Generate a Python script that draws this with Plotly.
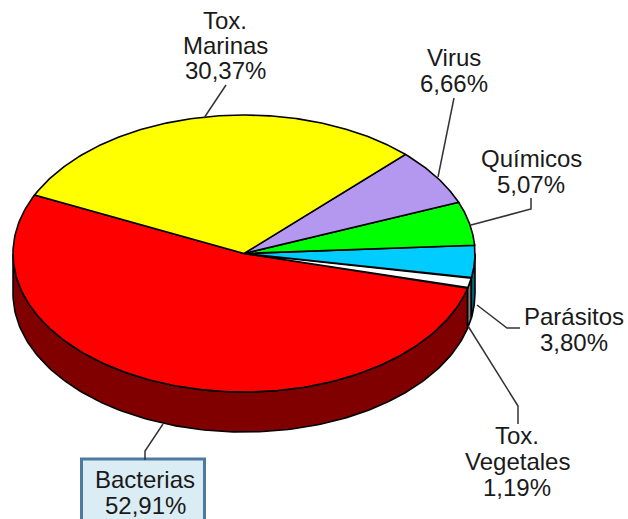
import numpy as np
import plotly.graph_objects as go

categories = ["Bacterias", "Tox. Vegetales", "Parásitos", "Químicos", "Virus", "Tox. Marinas"]
values = [52.91, 1.19, 3.80, 5.07, 6.66, 30.37]
top_colors = ["#FF0000", "#FFFFFF", "#00CCFF", "#00FF00", "#B497EE", "#FFFF00"]
side_colors = ["#800000", "#808080", "#006680", "#008000", "#5A4B77", "#808000"]

CX, CY, RX, RY, DEPTH = 244.0, 253.5, 231.0, 138.5, 40.0
START_DEG = 155.0

fig = go.Figure()

def point(deg, dy=0.0):
    a = np.radians(deg)
    return CX + RX * np.cos(a), CY - RY * np.sin(a) + dy

def add_poly(xs, ys, fill, width=1.6):
    fig.add_trace(go.Scatter(x=xs, y=ys, mode="lines", fill="toself", fillcolor=fill,
                             line=dict(color="#000000", width=width), hoverinfo="skip",
                             showlegend=False))

# angular spans of every slice, anticlockwise from START_DEG
spans = []
angle = START_DEG
for v in values:
    spans.append((angle, angle + v * 3.6))
    angle += v * 3.6

# side wall (front half only: 180 to 360 degrees)
for (a0, a1), side in zip(spans, side_colors):
    lo, hi = max(a0, 180.0), min(a1, 360.0)
    if hi > lo:
        t = np.linspace(lo, hi, 160)
        x0, y0 = point(t)
        x1, y1 = point(t[::-1], DEPTH)
        add_poly(np.r_[x0, x1, x0[0]], np.r_[y0, y1, y0[0]], side)

# top face
for (a0, a1), top in zip(spans, top_colors):
    t = np.linspace(a0, a1, 200)
    x, y = point(t)
    add_poly(np.r_[CX, x, CX], np.r_[CY, y, CY], top)

# leader lines
leaders = [
    [(204, 118), (226, 85)],
    [(438, 177), (454, 98)],
    [(471, 225), (531, 209), (531, 198)],
    [(477, 305), (507, 328), (520, 328)],
    [(468, 326), (518, 406), (518, 424)],
    [(163, 424), (145, 451), (145, 460)],
]
for pts in leaders:
    fig.add_trace(go.Scatter(x=[p[0] for p in pts], y=[p[1] for p in pts], mode="lines",
                             line=dict(color="#333333", width=1.5), hoverinfo="skip",
                             showlegend=False))

# labels, one annotation per line so the line spacing follows the reference
pct = {c: f"{v:.2f}".replace(".", ",") + "%" for c, v in zip(categories, values)}
labels = [
    ("Tox.", 225, 20), ("Marinas", 225, 45), (pct["Tox. Marinas"], 225, 70),
    ("Virus", 454, 57), (pct["Virus"], 454, 83),
    ("Químicos", 531, 158), (pct["Químicos"], 531, 184),
    ("Parásitos", 574, 316), (pct["Parásitos"], 574, 342),
    ("Tox.", 517, 435.5), ("Vegetales", 517, 461), (pct["Tox. Vegetales"], 517, 487),
    ("Bacterias", 145, 479), (pct["Bacterias"], 145, 505),
]
for text, x, y in labels:
    fig.add_annotation(x=x, y=y, xref="x", yref="y", text=text, showarrow=False,
                       align="center", xanchor="center", yanchor="middle",
                       font=dict(family="Liberation Sans", size=24, color="#1A1A1A"))

fig.update_layout(
    width=628, height=519, margin=dict(l=0, r=0, t=0, b=0),
    paper_bgcolor="#FFFFFF", plot_bgcolor="#FFFFFF", showlegend=False,
    xaxis=dict(range=[0, 628], visible=False, fixedrange=True),
    yaxis=dict(range=[519, 0], visible=False, fixedrange=True),
    shapes=[dict(type="rect", xref="x", yref="y", x0=81.5, x1=204.5, y0=459, y1=530,
                 fillcolor="#DAECF4", line=dict(color="#4F7A9F", width=3), layer="below")],
)
fig.write_html("out.html", config={"displayModeBar": False},
               post_script="document.body.style.margin='0';document.body.style.overflow='hidden';")
